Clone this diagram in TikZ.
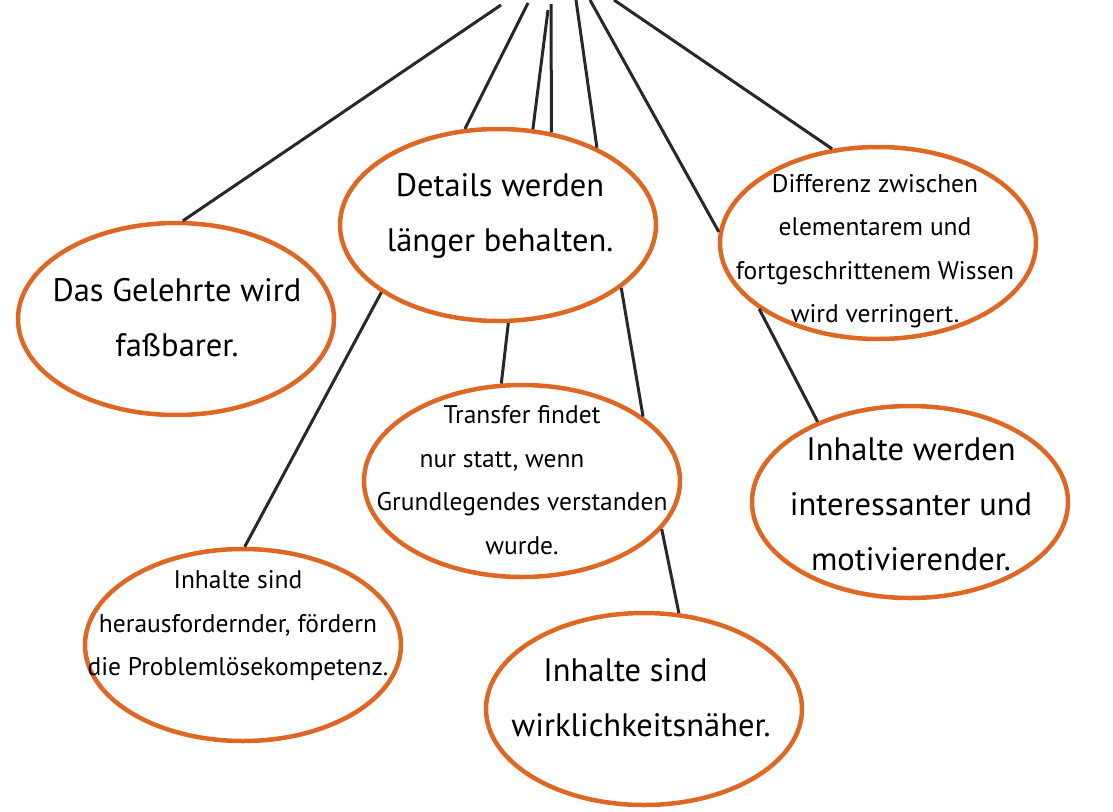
\documentclass[tikz,border=0pt]{standalone}
\usepackage{fontspec}
\setmainfont{PT Sans}
\usetikzlibrary{shapes.geometric}
\definecolor{bubbleorange}{RGB}{222,103,36}
\definecolor{linkgray}{RGB}{40,40,40}
\begin{document}
\begin{tikzpicture}[x=1pt,y=-1pt,
  bubble/.style={ellipse, draw=bubbleorange, fill=white, line width=4.5pt,
    minimum width=316pt, minimum height=192pt, inner sep=0pt},
  bigtext/.style={align=center, inner sep=0pt, font=\fontsize{32.5}{55}\selectfont},
  smalltext/.style={align=center, inner sep=0pt, font=\fontsize{25.5}{43.5}\selectfont},
  link/.style={draw=linkgray, line width=3pt}]
\useasboundingbox (0,0) rectangle (1113,811);

% bubbles
\node[bubble] (A) at (176,319) {};
\node[bubble] (B) at (498,225) {};
\node[bubble] (C) at (878,243) {};
\node[bubble] (D) at (522,481) {};
\node[bubble] (E) at (243,645) {};
\node[bubble] (F) at (644,709) {};
\node[bubble] (G) at (910,502) {};

% texts
\node[bigtext] (At) at (177,318) {Das Gelehrte wird\\fa\ss barer.};
\node[bigtext] (Bt) at (500,215.5) {Details werden\\länger behalten.};
\node[smalltext] (Ct) at (875,251) {Differenz zwischen\\elementarem und\\fortgeschrittenem Wissen\\wird verringert.};
\node[smalltext] (Dt) at (522,480) {Transfer findet\\nur statt, wenn\hspace*{40pt}\mbox{}\\Grundlegendes verstanden\\wurde.};
\node[smalltext] (Et) at (238,626) {Inhalte sind\\herausfordernder, fördern\\die Problemlösekompetenz.};
\node[bigtext] (Ft) at (641,697.5) {Inhalte sind\hspace*{31pt}\mbox{}\\wirklichkeitsnäher.};
\node[bigtext] (Gt) at (911,504) {Inhalte werden\\interessanter und\\motivierender.};

% free top ends
\coordinate (t1) at (501,5);
\coordinate (t2) at (528,3);
\coordinate (t3) at (548,10);
\coordinate (t4) at (551,4);
\coordinate (t5) at (576,0);
\coordinate (t6) at (590,0);
\coordinate (t7) at (614,0);

% connectors
\draw[link] (t1) -- (A.86);
\draw[link] (t2) -- (B.109);
\draw[link] (t3) -- (B.70);
\draw[link] (t4) -- (B.60);
\draw[link] (t5) -- (B.38);
\draw[link] (t6) -- (C.176);
\draw[link] (t7) -- (C.116);
\draw[link] (B.210) -- (E.89);
\draw[link] (B.276) -- (D.102);
\draw[link] (B.333) -- (D.28);
\draw[link] (D.341) -- (F.70);
\draw[link] (C.209) -- (G.139);
\end{tikzpicture}
\end{document}
